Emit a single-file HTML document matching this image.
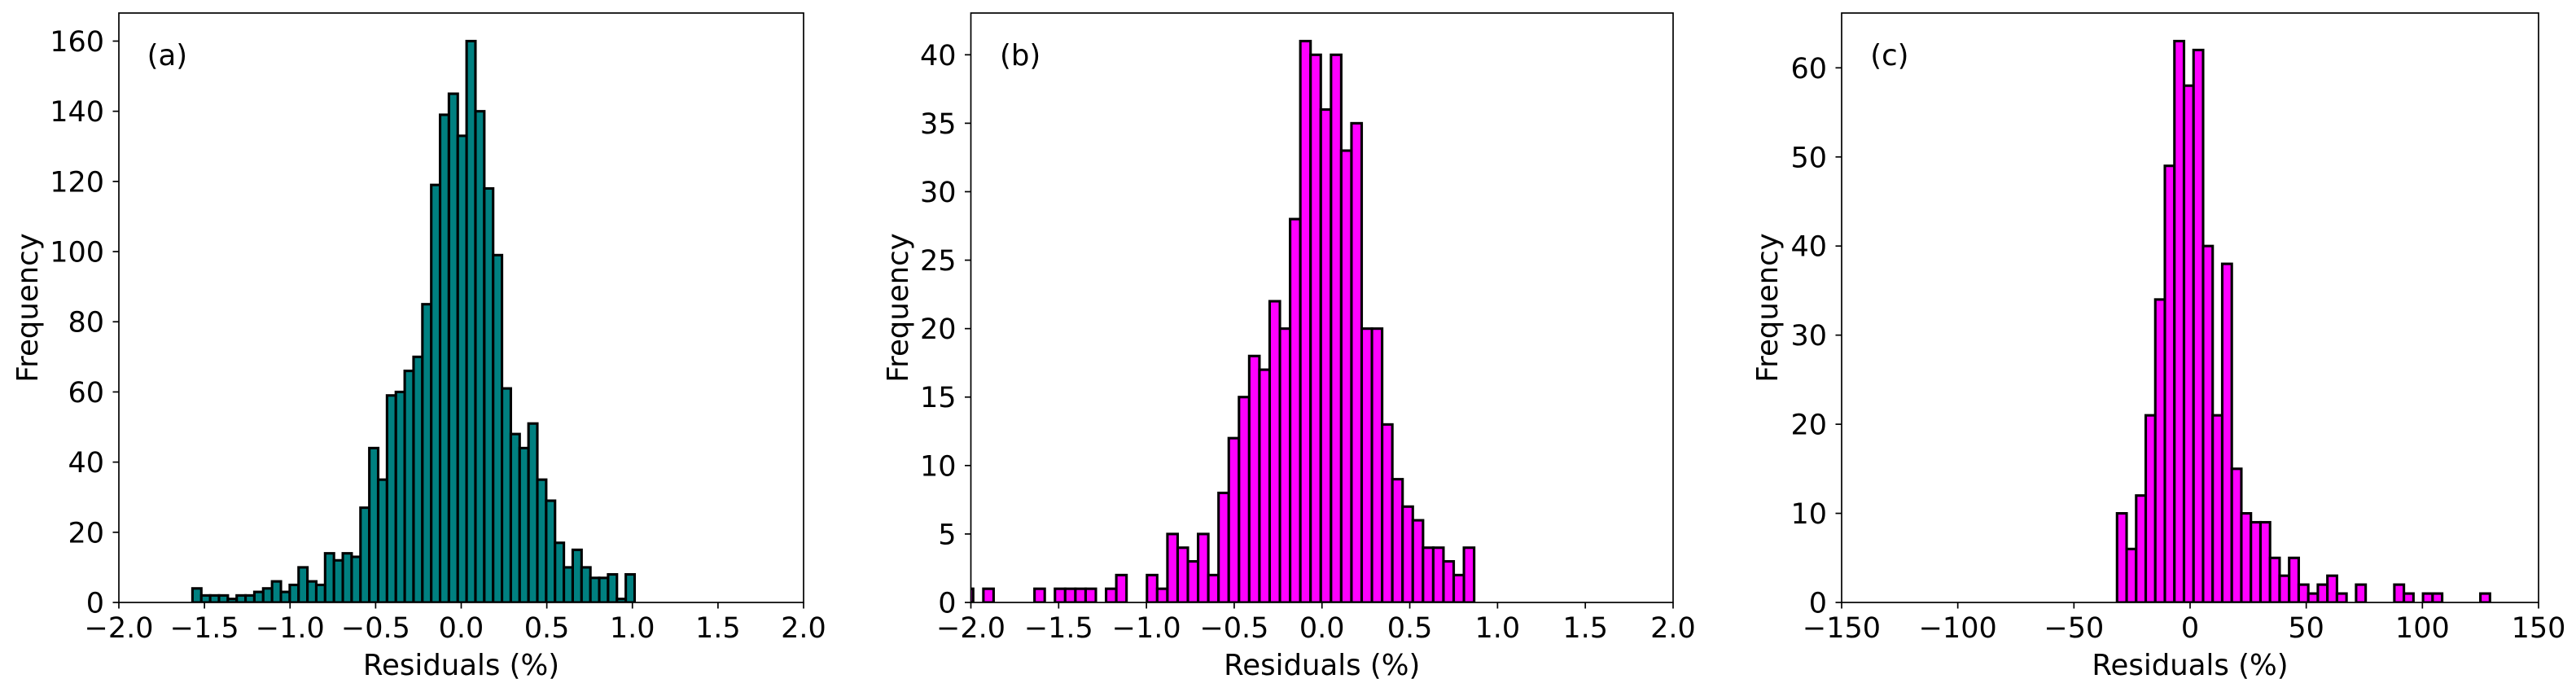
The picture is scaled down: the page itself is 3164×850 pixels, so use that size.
<!DOCTYPE html>
<html><head><meta charset="utf-8">
<style>
html,body{margin:0;padding:0;background:#fff;}
svg{display:block;font-family:"DejaVu Sans","Liberation Sans",sans-serif;}
</style></head>
<body>
<svg id="fig" width="3164" height="850" viewBox="0 0 3164 850" xmlns="http://www.w3.org/2000/svg"></svg>
<script>
// ---- data (panel a) ----
const countsA = [4,2,2,2,1,2,2,3,4,6,3,5,10,6,5,14,12,14,13,27,44,35,59,60,66,70,85,119,139,145,133,160,140,118,99,61,48,44,51,35,29,17,10,15,10,7,7,8,1,8];
const binStartA = -1.570;
const binWidthA = 0.05166;
const xTicksA = [-2.0,-1.5,-1.0,-0.5,0.0,0.5,1.0,1.5,2.0];
const xTickLabelsA = ["\u22122.0","\u22121.5","\u22121.0","\u22120.5","0.0","0.5","1.0","1.5","2.0"];
const yTicksA = [0,20,40,60,80,100,120,140,160];
// ---- data (panel b) ----
const countsB = [0,1,0,1,0,0,0,0,1,0,1,1,1,1,0,1,2,0,0,2,1,5,4,3,5,2,8,12,15,18,17,22,20,28,41,40,36,40,33,35,20,20,13,9,7,6,4,4,3,2,4];
const binStartB = -2.1035;
const binWidthB = 0.05824;
const xTicksB = [-2.0,-1.5,-1.0,-0.5,0.0,0.5,1.0,1.5,2.0];
const xTickLabelsB = ["\u22122.0","\u22121.5","\u22121.0","\u22120.5","0.0","0.5","1.0","1.5","2.0"];
const yTicksB = [0,5,10,15,20,25,30,35,40];
// ---- data (panel c) ----
const countsC = [10,6,12,21,34,49,63,58,62,40,21,38,15,10,9,9,5,3,5,2,1,2,3,1,0,2,0,0,0,2,1,0,1,1,0,0,0,0,1];
const binStartC = -31.44;
const binWidthC = 4.116;
const xTicksC = [-150,-100,-50,0,50,100,150];
const xTickLabelsC = ["\u2212150","\u2212100","\u221250","0","50","100","150"];
const yTicksC = [0,10,20,30,40,50,60];

const NS = "http://www.w3.org/2000/svg";
const svg = document.getElementById('fig');
function mk(tag, attrs, parent){
  const e = document.createElementNS(NS, tag);
  for (const k in attrs) e.setAttribute(k, attrs[k]);
  (parent||svg).appendChild(e);
  return e;
}

function panel(id, L, R, T, B, xmin, xmax, ymax, counts, start, width, color, xt, xtl, yt, label, ylabX){
  const g = mk('g', {});
  
  
  const xs = v => L + (v - xmin) / (xmax - xmin) * (R - L);
  const ys = v => B - v / ymax * (B - T);
  const clip = mk('clipPath', {id: 'clip-' + id}, g);
  mk('rect', {x: L, y: T, width: R - L, height: B - T}, clip);
  const bars = mk('g', {'clip-path': 'url(#clip-' + id + ')'}, g);
  
  
  counts.forEach((c, i) => {
    if (c <= 0) return;
    const x0 = xs(start + i * width), x1 = xs(start + (i + 1) * width);
    const r = mk('rect', {x: x0, y: ys(c), width: x1 - x0, height: ys(0) - ys(c), fill: color, stroke: '#000', 'stroke-width': 3.1}, bars);
    
    
  });
  const frame = mk('rect', {x: L, y: T, width: R - L, height: B - T, fill: 'none', stroke: '#000', 'stroke-width': 1.7}, g);
  
  
  xt.forEach((v, i) => {
    const x = xs(v);
    mk('line', {x1: x, x2: x, y1: B, y2: B + 7.5, stroke: '#000', 'stroke-width': 1.7}, g);
    const t = mk('text', {x: x, y: 783, 'font-size': 35, 'text-anchor': 'middle', fill: '#000'}, g);
    t.textContent = xtl[i];
    
    
  });
  yt.forEach(v => {
    const y = ys(v);
    mk('line', {x1: L - 7.5, x2: L, y1: y, y2: y, stroke: '#000', 'stroke-width': 1.7}, g);
    const t = mk('text', {x: L - 18, y: y + 12.5, 'font-size': 35, 'text-anchor': 'end', fill: '#000'}, g);
    t.textContent = String(v);
    
    
  });
  const xl = mk('text', {x: (L + R) / 2, y: 829, 'font-size': 35.5, 'text-anchor': 'middle', fill: '#000'}, g);
  xl.textContent = 'Residuals (%)';
  
  
  const yl = mk('text', {x: 0, y: 0, 'font-size': 35.5, 'text-anchor': 'middle', fill: '#000', transform: 'translate(' + ylabX + ',378) rotate(-90)'}, g);
  yl.textContent = 'Frequency';
  
  
  const pl = mk('text', {x: L + 0.04 * (R - L) + 1, y: 80, 'font-size': 35.5, fill: '#000'}, g);
  pl.textContent = label;
  
  
}

panel('a', 146, 987, 16, 740, -2, 2, 168, countsA, binStartA, binWidthA, '#008080', xTicksA, xTickLabelsA, yTicksA, '(a)', 46);
panel('b', 1192.5, 2055, 16, 740, -2, 2, 43.05, countsB, binStartB, binWidthB, '#ff00ff', xTicksB, xTickLabelsB, yTicksB, '(b)', 1115);
panel('c', 2262, 3118, 16, 740, -150, 150, 66.15, countsC, binStartC, binWidthC, '#ff00ff', xTicksC, xTickLabelsC, yTicksC, '(c)', 2183);
</script>
</body></html>
